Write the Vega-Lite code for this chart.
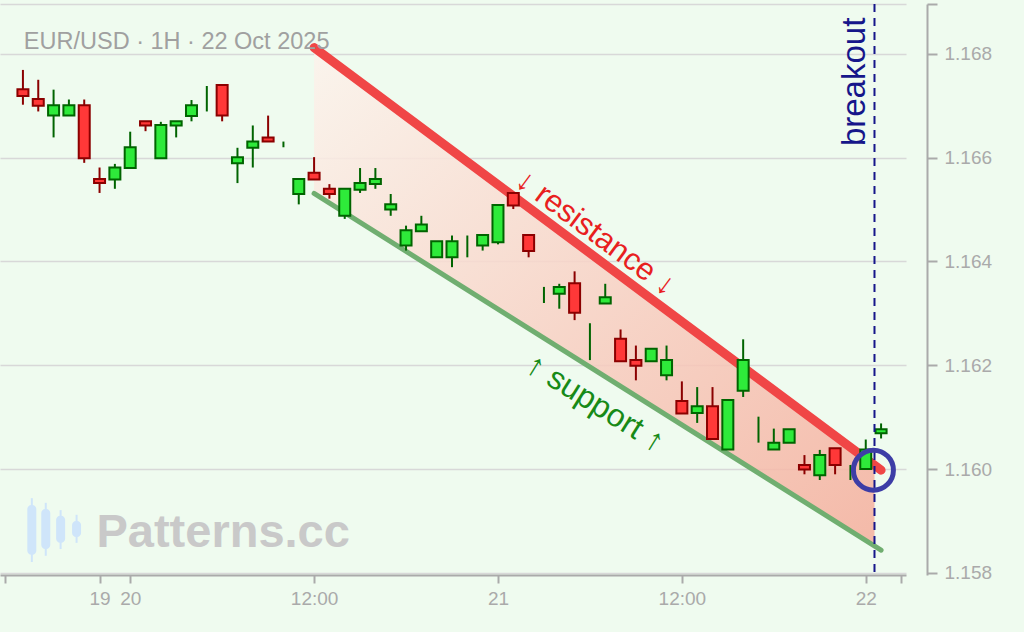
{
  "$schema": "https://vega.github.io/schema/vega-lite/v6.json",
  "width": 1024,
  "height": 632,
  "autosize": {"type": "fit", "contains": "padding"},
  "padding": {"left": 0, "top": 3, "right": 32, "bottom": 17},
  "background": "#effbef",
  "config": {
    "view": {"stroke": null},
    "font": "Liberation Sans",
    "text": {"font": "Liberation Sans"}
  },
  "datasets": {
    "candles": [
      {"t": -7, "open": 1.16732, "high": 1.16769, "low": 1.16702, "close": 1.16719},
      {"t": -6, "open": 1.16713, "high": 1.16750, "low": 1.16689, "close": 1.16700},
      {"t": -5, "open": 1.16681, "high": 1.16731, "low": 1.16639, "close": 1.16701},
      {"t": -4, "open": 1.16681, "high": 1.16712, "low": 1.16681, "close": 1.16701},
      {"t": -3, "open": 1.16701, "high": 1.16712, "low": 1.16590, "close": 1.16599},
      {"t": -2, "open": 1.16559, "high": 1.16581, "low": 1.16532, "close": 1.16551},
      {"t": -1, "open": 1.16558, "high": 1.16588, "low": 1.16540, "close": 1.16581},
      {"t": 0, "open": 1.16580, "high": 1.16650, "low": 1.16580, "close": 1.16620},
      {"t": 1, "open": 1.16670, "high": 1.16670, "low": 1.16651, "close": 1.16662},
      {"t": 2, "open": 1.16599, "high": 1.16669, "low": 1.16599, "close": 1.16663},
      {"t": 3, "open": 1.16662, "high": 1.16670, "low": 1.16639, "close": 1.16670},
      {"t": 4, "open": 1.16680, "high": 1.16711, "low": 1.16670, "close": 1.16701},
      {"t": 5, "open": 1.16715, "high": 1.16738, "low": 1.16689, "close": 1.16715},
      {"t": 6, "open": 1.16740, "high": 1.16740, "low": 1.16670, "close": 1.16681},
      {"t": 7, "open": 1.16589, "high": 1.16619, "low": 1.16551, "close": 1.16601},
      {"t": 8, "open": 1.16619, "high": 1.16662, "low": 1.16581, "close": 1.16631},
      {"t": 9, "open": 1.16639, "high": 1.16681, "low": 1.16631, "close": 1.16631},
      {"t": 10, "open": 1.16625, "high": 1.16631, "low": 1.16620, "close": 1.16625},
      {"t": 11, "open": 1.16530, "high": 1.16559, "low": 1.16510, "close": 1.16559},
      {"t": 12, "open": 1.16571, "high": 1.16601, "low": 1.16558, "close": 1.16558},
      {"t": 13, "open": 1.16540, "high": 1.16549, "low": 1.16521, "close": 1.16530},
      {"t": 14, "open": 1.16488, "high": 1.16540, "low": 1.16482, "close": 1.16540},
      {"t": 15, "open": 1.16538, "high": 1.16580, "low": 1.16532, "close": 1.16551},
      {"t": 16, "open": 1.16549, "high": 1.16580, "low": 1.16540, "close": 1.16559},
      {"t": 17, "open": 1.16500, "high": 1.16530, "low": 1.16488, "close": 1.16510},
      {"t": 18, "open": 1.16431, "high": 1.16469, "low": 1.16421, "close": 1.16460},
      {"t": 19, "open": 1.16458, "high": 1.16488, "low": 1.16458, "close": 1.16471},
      {"t": 20, "open": 1.16408, "high": 1.16439, "low": 1.16408, "close": 1.16439},
      {"t": 21, "open": 1.16408, "high": 1.16450, "low": 1.16389, "close": 1.16439},
      {"t": 22, "open": 1.16430, "high": 1.16450, "low": 1.16408, "close": 1.16430},
      {"t": 23, "open": 1.16431, "high": 1.16451, "low": 1.16421, "close": 1.16451},
      {"t": 24, "open": 1.16437, "high": 1.16509, "low": 1.16433, "close": 1.16509},
      {"t": 25, "open": 1.16532, "high": 1.16532, "low": 1.16501, "close": 1.16508},
      {"t": 26, "open": 1.16451, "high": 1.16451, "low": 1.16408, "close": 1.16420},
      {"t": 27, "open": 1.16335, "high": 1.16351, "low": 1.16320, "close": 1.16335},
      {"t": 28, "open": 1.16338, "high": 1.16357, "low": 1.16309, "close": 1.16351},
      {"t": 29, "open": 1.16358, "high": 1.16381, "low": 1.16287, "close": 1.16301},
      {"t": 30, "open": 1.16245, "high": 1.16281, "low": 1.16210, "close": 1.16245},
      {"t": 31, "open": 1.16319, "high": 1.16357, "low": 1.16319, "close": 1.16331},
      {"t": 32, "open": 1.16251, "high": 1.16269, "low": 1.16208, "close": 1.16208},
      {"t": 33, "open": 1.16210, "high": 1.16238, "low": 1.16171, "close": 1.16199},
      {"t": 34, "open": 1.16208, "high": 1.16232, "low": 1.16208, "close": 1.16232},
      {"t": 35, "open": 1.16181, "high": 1.16238, "low": 1.16171, "close": 1.16210},
      {"t": 36, "open": 1.16131, "high": 1.16169, "low": 1.16107, "close": 1.16107},
      {"t": 37, "open": 1.16108, "high": 1.16158, "low": 1.16089, "close": 1.16121},
      {"t": 38, "open": 1.16121, "high": 1.16158, "low": 1.16058, "close": 1.16058},
      {"t": 39, "open": 1.16038, "high": 1.16133, "low": 1.16038, "close": 1.16133},
      {"t": 40, "open": 1.16151, "high": 1.16250, "low": 1.16139, "close": 1.16210},
      {"t": 41, "open": 1.16075, "high": 1.16101, "low": 1.16051, "close": 1.16075},
      {"t": 42, "open": 1.16038, "high": 1.16078, "low": 1.16038, "close": 1.16051},
      {"t": 43, "open": 1.16051, "high": 1.16077, "low": 1.16051, "close": 1.16077},
      {"t": 44, "open": 1.16008, "high": 1.16027, "low": 1.15990, "close": 1.15999},
      {"t": 45, "open": 1.15988, "high": 1.16037, "low": 1.15979, "close": 1.16027},
      {"t": 46, "open": 1.16040, "high": 1.16040, "low": 1.15990, "close": 1.16008},
      {"t": 47, "open": 1.15995, "high": 1.16008, "low": 1.15979, "close": 1.15995},
      {"t": 48, "open": 1.16000, "high": 1.16057, "low": 1.16000, "close": 1.16038},
      {"t": 49, "open": 1.16069, "high": 1.16088, "low": 1.16059, "close": 1.16077}
    ],
    "lines": [
      {"line": "resistance", "t": 12, "price": 1.16812},
      {"line": "resistance", "t": 49, "price": 1.15998},
      {"line": "support", "t": 12, "price": 1.16531},
      {"line": "support", "t": 49, "price": 1.15844}
    ],
    "channel": [
      {"t": 12, "top": 1.16812, "bottom": 1.16531},
      {"t": 48.57, "top": 1.16007, "bottom": 1.15851}
    ],
    "logo": [
      {"t": -6.42, "open": 1.15931, "close": 1.15835, "high": 1.15944, "low": 1.15821},
      {"t": -5.51, "open": 1.15923, "close": 1.15846, "high": 1.15935, "low": 1.15833},
      {"t": -4.54, "open": 1.15910, "close": 1.15858, "high": 1.15921, "low": 1.15846},
      {"t": -3.5, "open": 1.15900, "close": 1.15869, "high": 1.15912, "low": 1.15858}
    ]
  },
  "encoding": {
    "x": {
      "field": "t",
      "type": "quantitative",
      "title": null,
      "scale": {"domain": [-8.17, 50.3], "nice": false, "zero": false},
      "axis": {
        "values": [-8.17, -2, 0, 12, 24, 36, 48, 50.3],
        "labelExpr": "datum.value == -2 ? '19' : datum.value == 0 ? '20' : datum.value == 24 ? '21' : datum.value == 48 ? '22' : (datum.value == 12 || datum.value == 36) ? '12:00' : ''",
        "grid": false,
        "domainColor": "#aaaaaa",
        "domainWidth": 2,
        "tickColor": "#aaaaaa",
        "tickWidth": 2,
        "tickSize": 8,
        "labelColor": "#aaaaaa",
        "labelFontSize": 19,
        "labelPadding": 6,
        "labelOverlap": false,
        "labelFlush": false,
        "minExtent": 40,
        "maxExtent": 40
      }
    }
  },
  "layer": [
    {
      "data": {"name": "logo"},
      "mark": {"type": "rule", "color": "#cfe5fa", "strokeWidth": 2},
      "encoding": {
        "y": {"field": "high", "type": "quantitative", "title": null,
              "scale": {"domain": [1.15796, 1.16896], "nice": false, "zero": false},
              "axis": {
                "orient": "right",
                "offset": 21,
                "values": [1.158, 1.16, 1.162, 1.164, 1.166, 1.168, 1.16896],
                "labelExpr": "datum.value > 1.1685 ? '' : format(datum.value, '.3f')",
                "grid": true,
                "gridColor": "#d8d8d8",
                "gridWidth": 1.5,
                "domainColor": "#aaaaaa",
                "domainWidth": 2,
                "tickColor": "#aaaaaa",
                "tickWidth": 2,
                "tickSize": 10,
                "labelColor": "#aaaaaa",
                "labelFontSize": 19,
                "labelPadding": 7
              }},
        "y2": {"field": "low"}
      }
    },
    {
      "data": {"name": "logo"},
      "mark": {"type": "bar", "color": "#cfe5fa", "size": 9, "cornerRadius": 4},
      "encoding": {
        "y": {"field": "open", "type": "quantitative", "title": null, "scale": {"domain": [1.15796, 1.16896], "nice": false, "zero": false}},
        "y2": {"field": "close"}
      }
    },
    {
      "data": {"values": [{"t": -2.2, "price": 1.15877, "label": "Patterns.cc"}]},
      "mark": {"type": "text", "align": "left", "baseline": "middle", "fontSize": 47, "fontWeight": "bold", "color": "#c9c9c9"},
      "encoding": {
        "y": {"field": "price", "type": "quantitative", "title": null, "scale": {"domain": [1.15796, 1.16896], "nice": false, "zero": false}},
        "text": {"field": "label"}
      }
    },
    {
      "data": {"name": "channel"},
      "mark": {
        "type": "area",
        "opacity": 0.85,
        "color": {
          "gradient": "linear",
          "x1": 0, "y1": 0, "x2": 1, "y2": 1,
          "stops": [
            {"offset": 0, "color": "#fcf3ec"},
            {"offset": 1, "color": "#f5ae9c"}
          ]
        }
      },
      "encoding": {
        "y": {"field": "top", "type": "quantitative", "title": null, "scale": {"domain": [1.15796, 1.16896], "nice": false, "zero": false}},
        "y2": {"field": "bottom"}
      }
    },
    {
      "data": {"name": "lines"},
      "transform": [{"filter": "datum.line == 'support'"}],
      "mark": {"type": "line", "color": "#70ae70", "strokeWidth": 5, "strokeCap": "round"},
      "encoding": {
        "y": {"field": "price", "type": "quantitative", "title": null, "scale": {"domain": [1.15796, 1.16896], "nice": false, "zero": false}}
      }
    },
    {
      "data": {"name": "lines"},
      "transform": [{"filter": "datum.line == 'resistance'"}],
      "mark": {"type": "line", "color": "#f04646", "strokeWidth": 9, "strokeCap": "round"},
      "encoding": {
        "y": {"field": "price", "type": "quantitative", "title": null, "scale": {"domain": [1.15796, 1.16896], "nice": false, "zero": false}}
      }
    },
    {
      "data": {"name": "candles"},
      "mark": {"type": "rule", "strokeWidth": 2},
      "encoding": {
        "y": {"field": "high", "type": "quantitative", "title": null, "scale": {"domain": [1.15796, 1.16896], "nice": false, "zero": false}},
        "y2": {"field": "low"},
        "color": {"condition": {"test": "datum.close >= datum.open", "value": "#006400"}, "value": "#8b0000"}
      }
    },
    {
      "data": {"name": "candles"},
      "transform": [{"filter": "datum.open != datum.close"}],
      "mark": {"type": "bar", "size": 11, "strokeWidth": 2},
      "encoding": {
        "y": {"field": "open", "type": "quantitative", "title": null, "scale": {"domain": [1.15796, 1.16896], "nice": false, "zero": false}},
        "y2": {"field": "close"},
        "fill": {"condition": {"test": "datum.close >= datum.open", "value": "#2eea3a"}, "value": "#ff3838"},
        "stroke": {"condition": {"test": "datum.close >= datum.open", "value": "#006400"}, "value": "#8b0000"}
      }
    },
    {
      "data": {"values": [{"t": 48.57}]},
      "mark": {"type": "rule", "color": "#16168a", "strokeWidth": 2, "strokeDash": [8, 6]},
      "encoding": {}
    },
    {
      "data": {"values": [{"t": 48.5, "price": 1.15998}]},
      "mark": {"type": "point", "filled": false, "size": 1600, "stroke": "#3d3da6", "strokeWidth": 5, "opacity": 1},
      "encoding": {
        "y": {"field": "price", "type": "quantitative", "title": null, "scale": {"domain": [1.15796, 1.16896], "nice": false, "zero": false}}
      }
    },
    {
      "data": {"values": [{"t": 30.35, "price": 1.16454, "label": "↓ resistance ↓"}]},
      "mark": {"type": "text", "align": "center", "baseline": "middle", "fontSize": 31, "angle": 36.5, "color": "#e8201e"},
      "encoding": {
        "y": {"field": "price", "type": "quantitative", "title": null, "scale": {"domain": [1.15796, 1.16896], "nice": false, "zero": false}},
        "text": {"field": "label"}
      }
    },
    {
      "data": {"values": [{"t": 30.35, "price": 1.16127, "label": "↑ support ↑"}]},
      "mark": {"type": "text", "align": "center", "baseline": "middle", "fontSize": 32, "angle": 32, "color": "#178a17"},
      "encoding": {
        "y": {"field": "price", "type": "quantitative", "title": null, "scale": {"domain": [1.15796, 1.16896], "nice": false, "zero": false}},
        "text": {"field": "label"}
      }
    },
    {
      "data": {"values": [{"t": 47.28, "price": 1.16746, "label": "breakout"}]},
      "mark": {"type": "text", "align": "center", "baseline": "middle", "fontSize": 33, "angle": -90, "color": "#16168a"},
      "encoding": {
        "y": {"field": "price", "type": "quantitative", "title": null, "scale": {"domain": [1.15796, 1.16896], "nice": false, "zero": false}},
        "text": {"field": "label"}
      }
    },
    {
      "data": {"values": [{"t": -6.94, "price": 1.16823, "label": "EUR/USD · 1H · 22 Oct 2025"}]},
      "mark": {"type": "text", "align": "left", "baseline": "middle", "fontSize": 23.5, "color": "#a0a0a0"},
      "encoding": {
        "y": {"field": "price", "type": "quantitative", "title": null, "scale": {"domain": [1.15796, 1.16896], "nice": false, "zero": false}},
        "text": {"field": "label"}
      }
    }
  ]
}
